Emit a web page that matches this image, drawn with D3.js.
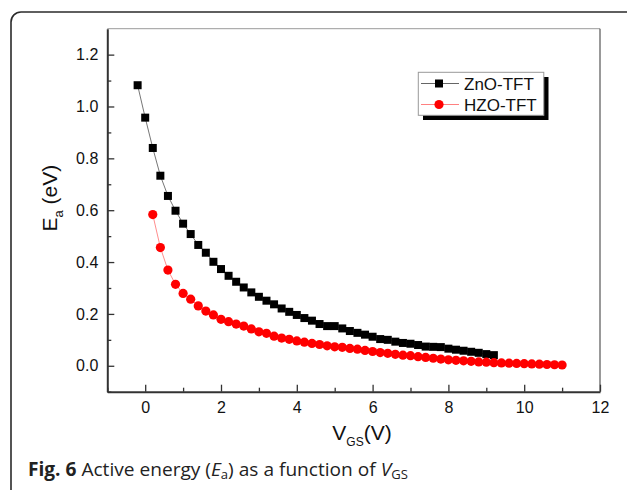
<!DOCTYPE html>
<html>
<head>
<meta charset="utf-8">
<script src="https://cdn.jsdelivr.net/npm/d3@7"></script>
<style>
  html, body { margin: 0; padding: 0; background: #fff; }
  svg { display: block; }
</style>
</head>
<body>
<svg id="chart" width="627" height="490"></svg>
<script>
// ---- data ----
const seriesNames = ["ZnO-TFT", "HZO-TFT"];
const znoVgs = [-0.2, 0.0, 0.2, 0.4, 0.6, 0.8, 1.0, 1.2, 1.4, 1.6, 1.8, 2.0, 2.2, 2.4, 2.6, 2.8, 3.0, 3.2, 3.4, 3.6, 3.8, 4.0, 4.2, 4.4, 4.6, 4.8, 5.0, 5.2, 5.4, 5.6, 5.8, 6.0, 6.2, 6.4, 6.6, 6.8, 7.0, 7.2, 7.4, 7.6, 7.8, 8.0, 8.2, 8.4, 8.6, 8.8, 9.0, 9.2];
const znoEa = [1.082, 0.957, 0.840, 0.733, 0.655, 0.598, 0.548, 0.508, 0.466, 0.436, 0.401, 0.373, 0.347, 0.324, 0.302, 0.283, 0.266, 0.251, 0.237, 0.221, 0.208, 0.196, 0.184, 0.174, 0.161, 0.153, 0.153, 0.144, 0.134, 0.127, 0.120, 0.112, 0.103, 0.100, 0.093, 0.088, 0.085, 0.080, 0.074, 0.073, 0.072, 0.066, 0.062, 0.058, 0.054, 0.050, 0.045, 0.041];
const hzoVgs = [0.2, 0.4, 0.6, 0.8, 1.0, 1.2, 1.4, 1.6, 1.8, 2.0, 2.2, 2.4, 2.6, 2.8, 3.0, 3.2, 3.4, 3.6, 3.8, 4.0, 4.2, 4.4, 4.6, 4.8, 5.0, 5.2, 5.4, 5.6, 5.8, 6.0, 6.2, 6.4, 6.6, 6.8, 7.0, 7.2, 7.4, 7.6, 7.8, 8.0, 8.2, 8.4, 8.6, 8.8, 9.0, 9.2, 9.4, 9.6, 9.8, 10.0, 10.2, 10.4, 10.6, 10.8, 11.0];
const hzoEa = [0.583, 0.456, 0.369, 0.314, 0.279, 0.257, 0.231, 0.211, 0.196, 0.179, 0.170, 0.161, 0.153, 0.142, 0.131, 0.125, 0.114, 0.107, 0.102, 0.096, 0.091, 0.086, 0.082, 0.077, 0.073, 0.071, 0.067, 0.064, 0.059, 0.055, 0.051, 0.048, 0.044, 0.041, 0.039, 0.035, 0.032, 0.029, 0.026, 0.023, 0.021, 0.019, 0.017, 0.015, 0.014, 0.012, 0.011, 0.010, 0.009, 0.008, 0.007, 0.006, 0.005, 0.004, 0.003];
const xTicks = [0, 2, 4, 6, 8, 10, 12];
const xMinorTicks = [-1, 1, 3, 5, 7, 9, 11];
const yTicks = [0.0, 0.2, 0.4, 0.6, 0.8, 1.0, 1.2];
const yMinorTicks = [-0.1, 0.1, 0.3, 0.5, 0.7, 0.9, 1.1];

// ---- layout ----
const svg = d3.select("#chart");
const L = 107.3, R = 600, T = 28.7, B = 391.7;
const x = d3.scaleLinear().domain([-1, 12]).range([L, R]);
const y = d3.scaleLinear().domain([-0.1, 1.3]).range([B, T]);
const tickFont = "'Liberation Sans', Arial, sans-serif";

// outer rounded panel border
svg.append("rect")
  .attr("x", 11).attr("y", 12).attr("width", 700).attr("height", 600)
  .attr("rx", 10).attr("ry", 10)
  .attr("fill", "none").attr("stroke", "#2b2b2b").attr("stroke-width", 1.6);

// frame top/right
svg.append("line").attr("x1", L).attr("x2", R).attr("y1", T).attr("y2", T)
  .attr("stroke", "#9a9a9a").attr("stroke-width", 1);
svg.append("line").attr("x1", R).attr("x2", R).attr("y1", T).attr("y2", B)
  .attr("stroke", "#555").attr("stroke-width", 1.2);

// x axis
const gx = svg.append("g").attr("transform", `translate(0,${B})`)
  .call(d3.axisBottom(x).tickValues(xTicks).tickFormat(d3.format("d"))
    .tickSizeInner(-7).tickSizeOuter(0).tickPadding(10));
gx.append("g").call(d3.axisBottom(x).tickValues(xMinorTicks).tickFormat("")
    .tickSizeInner(-4).tickSizeOuter(0));
// y axis
const gy = svg.append("g").attr("transform", `translate(${L},0)`)
  .call(d3.axisLeft(y).tickValues(yTicks).tickFormat(d3.format(".1f"))
    .tickSizeInner(-7).tickSizeOuter(0).tickPadding(9));
gy.append("g").call(d3.axisLeft(y).tickValues(yMinorTicks).tickFormat("")
    .tickSizeInner(-4).tickSizeOuter(0));

svg.selectAll(".domain").attr("stroke", "#333").attr("stroke-width", 2);
svg.selectAll(".tick line").attr("stroke", "#333").attr("stroke-width", 1.3);
svg.selectAll(".tick text").attr("font-family", tickFont).attr("font-size", 16).attr("fill", "#111");
gx.select("g .domain").remove();
gy.select("g .domain").remove();

// axis titles
const yt = svg.append("text")
  .attr("transform", `translate(57,${(T + B) / 2 - 12}) rotate(-90)`)
  .attr("text-anchor", "middle")
  .attr("font-family", tickFont).attr("font-size", 21).attr("fill", "#111");
yt.append("tspan").text("E");
yt.append("tspan").attr("font-size", 13).attr("dy", 6).text("a");
yt.append("tspan").attr("dy", -6).text(" (eV)");

const xt = svg.append("text")
  .attr("x", 362).attr("y", 440)
  .attr("text-anchor", "middle")
  .attr("font-family", tickFont).attr("font-size", 21).attr("fill", "#111");
xt.append("tspan").text("V");
xt.append("tspan").attr("font-size", 12).attr("dy", 6).text("GS");
xt.append("tspan").attr("dy", -6).text("(V)");

// series
const zno = znoVgs.map((v, i) => [v, znoEa[i]]);
const hzo = hzoVgs.map((v, i) => [v, hzoEa[i]]);
const line = d3.line().x(d => x(d[0])).y(d => y(d[1]));

svg.append("path").datum(zno).attr("d", line)
  .attr("fill", "none").attr("stroke", "#666").attr("stroke-width", 0.9);
svg.append("path").datum(hzo).attr("d", line)
  .attr("fill", "none").attr("stroke", "#ff8080").attr("stroke-width", 0.9);

const sq = 8;
svg.append("g").selectAll("rect").data(zno).join("rect")
  .attr("x", d => x(d[0]) - sq / 2).attr("y", d => y(d[1]) - sq / 2)
  .attr("width", sq).attr("height", sq).attr("fill", "#000");
svg.append("g").selectAll("circle").data(hzo).join("circle")
  .attr("cx", d => x(d[0])).attr("cy", d => y(d[1])).attr("r", 4.6)
  .attr("fill", "#ff0000");

// legend
const lg = svg.append("g");
lg.append("rect").attr("x", 423).attr("y", 77).attr("width", 125.5).attr("height", 43).attr("fill", "#000");
lg.append("rect").attr("x", 418.3).attr("y", 72.3).attr("width", 125.5).attr("height", 43)
  .attr("fill", "#fff").attr("stroke", "#999").attr("stroke-width", 1);
const legendY = [83.5, 104.5];
const legendLineColor = ["#666", "#ff8080"];
seriesNames.forEach((name, i) => {
  const ly = legendY[i];
  lg.append("line").attr("x1", 421).attr("x2", 459).attr("y1", ly).attr("y2", ly)
    .attr("stroke", legendLineColor[i]).attr("stroke-width", 1);
  if (i === 0) {
    lg.append("rect").attr("x", 439 - sq / 2).attr("y", ly - sq / 2).attr("width", sq).attr("height", sq).attr("fill", "#000");
  } else {
    lg.append("circle").attr("cx", 439).attr("cy", ly).attr("r", 4.6).attr("fill", "#ff0000");
  }
  lg.append("text").attr("x", 464).attr("y", ly + 6)
    .attr("font-family", tickFont).attr("font-size", 17).attr("fill", "#111").text(name);
});

// caption
const cap = svg.append("text").attr("id", "cap")
  .attr("x", 28).attr("y", 476)
  .attr("font-family", "'Open Sans', 'Noto Sans', sans-serif").attr("font-size", 19).attr("fill", "#222");
cap.append("tspan").attr("font-weight", "bold").text("Fig. 6");
cap.append("tspan").text(" Active energy (");
cap.append("tspan").attr("font-style", "italic").text("E");
cap.append("tspan").attr("font-size", 13).attr("dy", 3).text("a");
cap.append("tspan").attr("dy", -3).text(") as a function of ");
cap.append("tspan").attr("font-style", "italic").text("V");
cap.append("tspan").attr("font-size", 13).attr("dy", 3).text("GS");
const w = cap.node().getComputedTextLength();
const target = 380;
cap.attr("transform", `translate(28,0) scale(${target / w},1) translate(-28,0)`);
</script>
</body>
</html>
